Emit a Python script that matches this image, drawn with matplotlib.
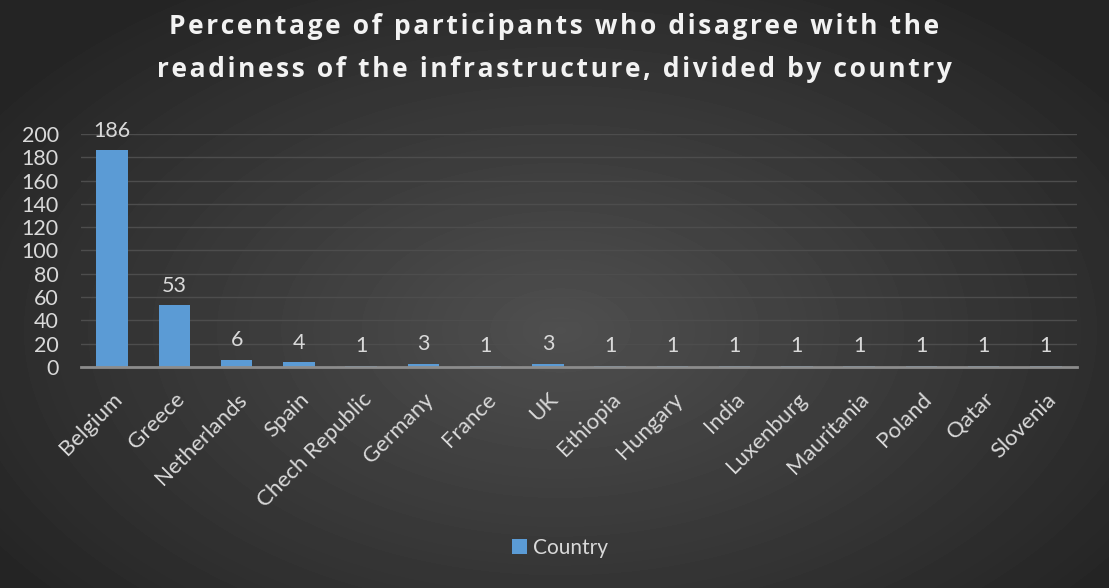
import numpy as np
import matplotlib.pyplot as plt

countries = ["Belgium", "Greece", "Netherlands", "Spain", "Chech Republic",
             "Germany", "France", "UK", "Ethiopia", "Hungary", "India",
             "Luxenburg", "Mauritania", "Poland", "Qatar", "Slovenia"]
counts = [186, 53, 6, 4, 1, 3, 1, 3, 1, 1, 1, 1, 1, 1, 1, 1]
yticks = list(range(0, 201, 20))
title_lines = ["Percentage of participants who disagree with the",
               "readiness of the infrastructure, divided by country"]

plt.rcParams['font.family'] = ['Lato', 'DejaVu Sans']

fig = plt.figure(figsize=(11.09, 5.88), dpi=100)

# radial gradient background
bg = fig.add_axes([0, 0, 1, 1], zorder=-10)
yy, xx = np.mgrid[0:588, 0:1109]
r = np.sqrt(((xx - 560) / 700.0) ** 2 + ((yy - 330) / 420.0) ** 2)
shade = np.clip(0.31 - 0.17 * r, 0.145, 0.31)
bg.imshow(shade, cmap='gray', vmin=0, vmax=1, aspect='auto')
bg.axis('off')

ax = fig.add_axes([81 / 1109, 1 - 367 / 588, 996 / 1109, 233 / 588])
ax.patch.set_alpha(0)
x = np.arange(len(countries))
bars = ax.bar(x, counts, width=0.51, color='#5b9bd5', zorder=3)
for xi, v in zip(x, counts):
    ax.annotate(str(v), (xi, v), xytext=(0, 7), textcoords='offset points',
                ha='center', va='bottom', color='#d9d9d9', fontsize=15.5)

ax.set_xlim(-0.5, len(countries) - 0.5)
ax.set_ylim(0, 200)
ax.set_yticks(yticks)
ax.grid(axis='y', color='#4d4d4d', linewidth=1, zorder=0)
for s in ['top', 'right', 'left']:
    ax.spines[s].set_visible(False)
ax.spines['bottom'].set_color('#8c8c8c')
ax.spines['bottom'].set_linewidth(2)
ax.spines['bottom'].set_zorder(4)
ax.tick_params(length=0, colors='#d9d9d9', labelsize=15.5)
ax.tick_params(axis='y', pad=16)
ax.set_xticks(x)
ax.set_xticklabels(countries, rotation=45, ha='right', rotation_mode='anchor',
                   fontsize=16)
ax.tick_params(axis='x', pad=16)
for lbl in ax.get_xticklabels():
    lbl.set_x(lbl.get_position()[0])

# title with extra letter spacing (hair spaces)
title = "\n".join("\u200a".join(line) for line in title_lines)
fig.text(0.5, 0.978, title, ha='center', va='top', color='#f2f2f2',
         fontsize=19, fontweight='bold', family=['Open Sans', 'DejaVu Sans'],
         linespacing=1.75)

leg = fig.legend([bars], ["Country"], loc='center', bbox_to_anchor=(0.505, 0.068),
                 frameon=False, fontsize=15, handlelength=0.7, handleheight=0.7,
                 handletextpad=0.3)
for t in leg.get_texts():
    t.set_color('#d9d9d9')

fig.savefig('out.png', dpi=100)
